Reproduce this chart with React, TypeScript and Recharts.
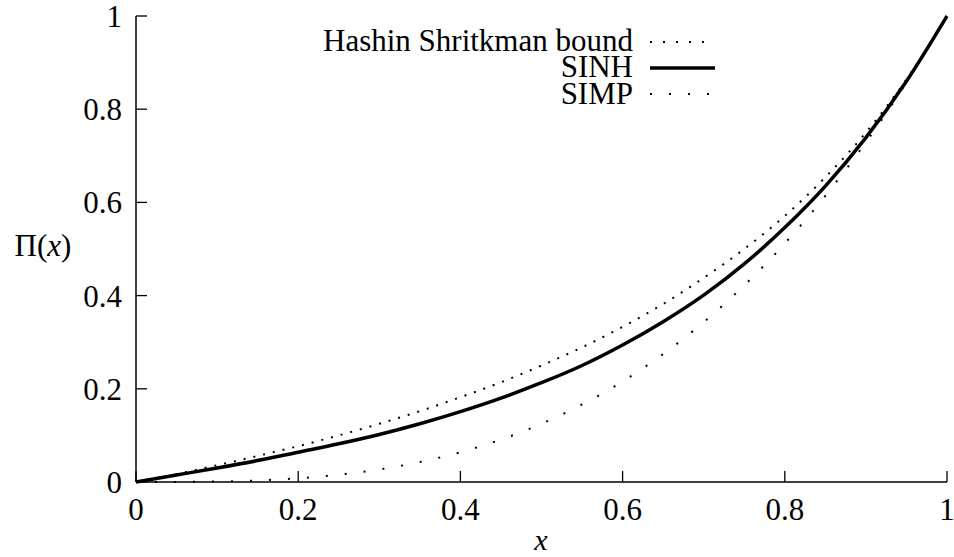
import React from 'react'
import { LineChart, Line, XAxis, YAxis, Label } from 'recharts'

const xs = [0, 0.05, 0.1, 0.15, 0.2, 0.25, 0.3, 0.35, 0.4, 0.45, 0.5, 0.55, 0.6, 0.65, 0.7, 0.75, 0.8, 0.85, 0.9, 0.95, 1]
const hashin = [0, 0.017, 0.036, 0.056, 0.077, 0.1, 0.125, 0.152, 0.182, 0.214, 0.25, 0.289, 0.333, 0.382, 0.438, 0.5, 0.571, 0.654, 0.75, 0.864, 1]
const sinh = [0, 0.015, 0.03, 0.046, 0.064, 0.082, 0.102, 0.125, 0.151, 0.18, 0.213, 0.25, 0.294, 0.344, 0.401, 0.468, 0.546, 0.635, 0.739, 0.86, 1]
const simp = [0, 0.0001, 0.001, 0.0034, 0.008, 0.0156, 0.027, 0.0429, 0.064, 0.0911, 0.125, 0.1664, 0.216, 0.2746, 0.343, 0.4219, 0.512, 0.6141, 0.729, 0.8574, 1]
const ticks = [0, 0.2, 0.4, 0.6, 0.8, 1]

const data = xs.map((x, i) => ({ x, hashin: hashin[i], sinh: sinh[i], simp: simp[i] }))

const FONT = '"Liberation Serif", "Times New Roman", serif'

const series = [
  { key: 'hashin', name: 'Hashin Shritkman bound', width: 2, dash: '2 8', legendDash: '2 11' },
  { key: 'sinh', name: 'SINH', width: 3.5, dash: undefined, legendDash: undefined },
  { key: 'simp', name: 'SIMP', width: 2, dash: '2 17', legendDash: '2 17' },
]

function BottomTick({ x, y, payload }: any) {
  return (
    <g>
      <line x1={x} y1={y} x2={x} y2={y - 11} stroke="#000" strokeWidth={1.3} />
      <text x={x} y={y + 38} textAnchor="middle" fontFamily={FONT} fontSize={31} fill="#000">
        {String(payload.value)}
      </text>
    </g>
  )
}

function TopTick({ x, y }: any) {
  return <line x1={x} y1={y} x2={x} y2={y + 11} stroke="#000" strokeWidth={1.3} />
}

function LeftTick({ x, y, payload }: any) {
  return (
    <g>
      <line x1={x} y1={y} x2={x + 11} y2={y} stroke="#000" strokeWidth={1.3} />
      <text x={x - 14} y={y + 11} textAnchor="end" fontFamily={FONT} fontSize={31} fill="#000">
        {String(payload.value)}
      </text>
    </g>
  )
}

function RightTick({ x, y }: any) {
  return <line x1={x} y1={y} x2={x - 11} y2={y} stroke="#000" strokeWidth={1.3} />
}

export default function App() {
  const rows = [42, 68, 94]
  const baselines = [51, 77, 104]
  return (
    <div style={{ position: 'absolute', left: 0, top: 0, width: 954, height: 557, background: '#fff' }}>
      <LineChart width={954} height={557} data={data} margin={{ top: 16, right: 7, left: 0, bottom: 0 }}>
        <XAxis
          dataKey="x"
          type="number"
          domain={[0, 1]}
          ticks={ticks}
          height={75}
          tickSize={0}
          tickMargin={0}
          tickLine={false}
          tick={<BottomTick />}
          axisLine={{ stroke: '#000', strokeWidth: 1.5 }}
          interval={0}
        >
          <Label
            content={() => (
              <text x={541} y={550} textAnchor="middle" fontFamily={FONT} fontSize={30} fontStyle="italic" fill="#000">
                x
              </text>
            )}
          />
        </XAxis>
        <XAxis
          xAxisId="top"
          dataKey="x"
          type="number"
          orientation="top"
          domain={[0, 1]}
          ticks={ticks}
          height={0}
          tickSize={0}
          tickMargin={0}
          tickLine={false}
          tick={<TopTick />}
          axisLine={{ stroke: '#000', strokeWidth: 1.5 }}
          interval={0}
        />
        <YAxis
          type="number"
          domain={[0, 1]}
          ticks={ticks}
          width={136}
          tickSize={0}
          tickMargin={0}
          tickLine={false}
          tick={<LeftTick />}
          axisLine={{ stroke: '#000', strokeWidth: 1.5 }}
          interval={0}
        >
          <Label
            content={() => (
              <text x={43} y={256} textAnchor="middle" fontFamily={FONT} fontSize={31} fill="#000">
                <tspan>Π(</tspan>
                <tspan fontStyle="italic">x</tspan>
                <tspan>)</tspan>
              </text>
            )}
          />
        </YAxis>
        <YAxis
          yAxisId="right"
          type="number"
          orientation="right"
          domain={[0, 1]}
          ticks={ticks}
          width={0}
          tickSize={0}
          tickMargin={0}
          tickLine={false}
          tick={<RightTick />}
          axisLine={{ stroke: '#000', strokeWidth: 1.5 }}
          interval={0}
        />
        {series.map((s) => (
          <Line
            key={s.key}
            dataKey={s.key}
            name={s.name}
            type="monotone"
            stroke="#000"
            strokeWidth={s.width}
            strokeDasharray={s.dash}
            dot={false}
            activeDot={false}
            isAnimationActive={false}
          />
        ))}
      </LineChart>

      {/* key, top middle of the plot */}
      <svg width={954} height={557} style={{ position: 'absolute', left: 0, top: 0, pointerEvents: 'none' }}>
        {series.map((s, i) => (
          <g key={s.key}>
            <text x={633} y={baselines[i]} textAnchor="end" fontFamily={FONT} fontSize={31} fill="#000">
              {s.name}
            </text>
            <line x1={650} y1={rows[i]} x2={715} y2={rows[i]} stroke="#000" strokeWidth={s.width} strokeDasharray={s.legendDash} />
          </g>
        ))}
      </svg>
    </div>
  )
}
